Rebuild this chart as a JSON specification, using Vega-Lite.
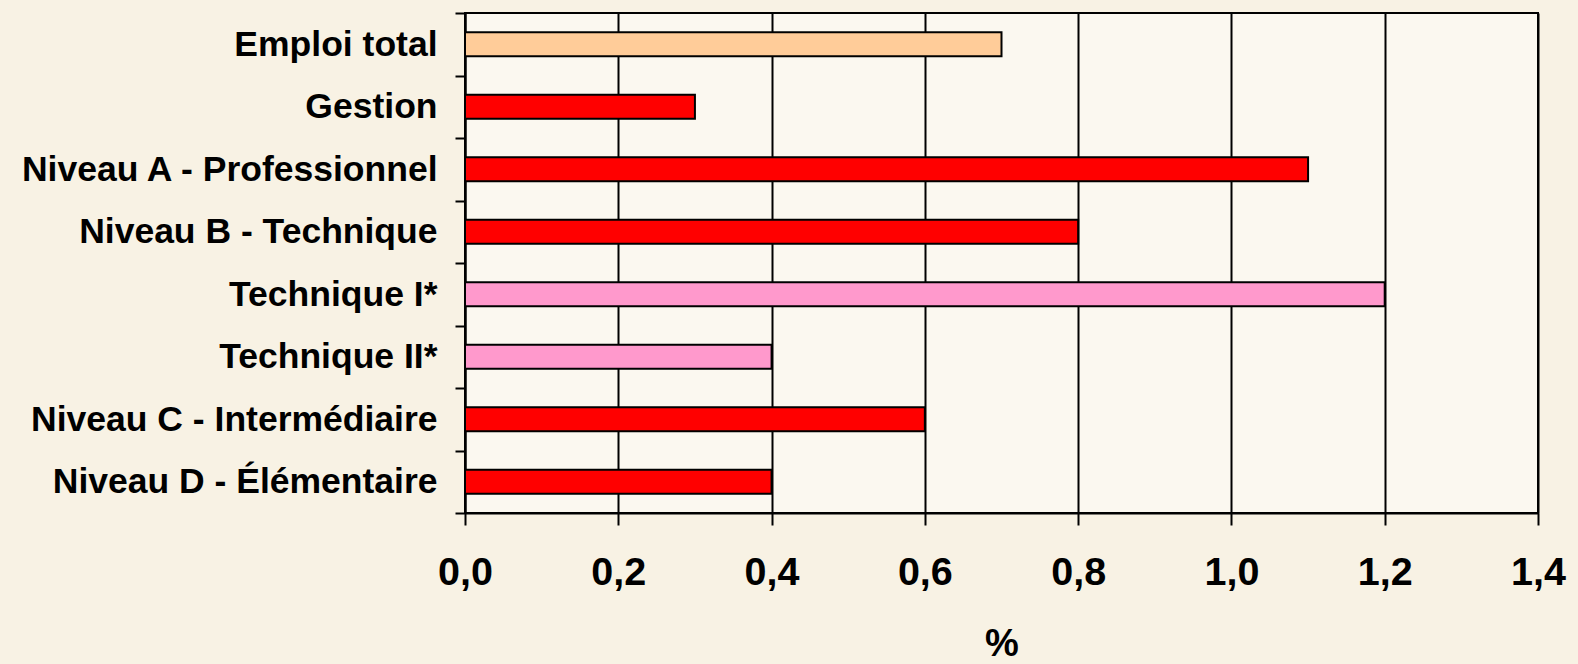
{
  "$schema": "https://vega.github.io/schema/vega-lite/v6.json",
  "autosize": "none",
  "width": 1073,
  "height": 500,
  "padding": {"left": 465, "top": 13, "right": 40, "bottom": 151},
  "background": "#f8f2e4",
  "config": {
    "view": {"stroke": "#000000", "strokeWidth": 2, "fill": "#fbf8f0"},
    "font": "Liberation Sans"
  },
  "data": {
    "values": [
      {"categorie": "Emploi total", "valeur": 0.7, "groupe": "Total"},
      {"categorie": "Gestion", "valeur": 0.3, "groupe": "Niveau"},
      {"categorie": "Niveau A - Professionnel", "valeur": 1.1, "groupe": "Niveau"},
      {"categorie": "Niveau B - Technique", "valeur": 0.8, "groupe": "Niveau"},
      {"categorie": "Technique I*", "valeur": 1.2, "groupe": "Sous-niveau"},
      {"categorie": "Technique II*", "valeur": 0.4, "groupe": "Sous-niveau"},
      {"categorie": "Niveau C - Intermédiaire", "valeur": 0.6, "groupe": "Niveau"},
      {"categorie": "Niveau D - Élémentaire", "valeur": 0.4, "groupe": "Niveau"}
    ]
  },
  "mark": {"type": "bar", "height": {"band": 0.384}, "stroke": "#000000", "strokeWidth": 2},
  "encoding": {
    "y": {
      "field": "categorie",
      "type": "nominal",
      "sort": null,
      "scale": {"paddingInner": 0, "paddingOuter": 0},
      "axis": {
        "title": null,
        "tickBand": "extent",
        "tickSize": 10,
        "tickWidth": 2,
        "tickColor": "#000000",
        "domainColor": "#000000",
        "domainWidth": 2,
        "labelFont": "Liberation Sans",
        "labelFontSize": 35.5,
        "labelFontWeight": "bold",
        "labelColor": "#000000",
        "labelPadding": 18,
        "labelLimit": 600
      }
    },
    "x": {
      "field": "valeur",
      "type": "quantitative",
      "scale": {"domain": [0, 1.4], "nice": false},
      "axis": {
        "title": "%",
        "values": [0, 0.2, 0.4, 0.6, 0.8, 1.0, 1.2, 1.4],
        "labelExpr": "replace(format(datum.value, '.1f'), '.', ',')",
        "grid": true,
        "gridColor": "#000000",
        "gridWidth": 2,
        "gridOpacity": 1,
        "tickSize": 12,
        "tickWidth": 2,
        "tickColor": "#000000",
        "domainColor": "#000000",
        "domainWidth": 2,
        "labelFont": "Liberation Sans",
        "labelFontSize": 39.5,
        "labelFontWeight": "bold",
        "labelColor": "#000000",
        "labelPadding": 28,
        "labelFlush": false,
        "labelOverlap": false,
        "titleFont": "Liberation Sans",
        "titleFontSize": 38,
        "titleFontWeight": "bold",
        "titleColor": "#000000",
        "titlePadding": 34
      }
    },
    "color": {
      "field": "groupe",
      "type": "nominal",
      "legend": null,
      "scale": {
        "domain": ["Total", "Niveau", "Sous-niveau"],
        "range": ["#ffcc99", "#ff0000", "#ff99cc"]
      }
    }
  }
}
